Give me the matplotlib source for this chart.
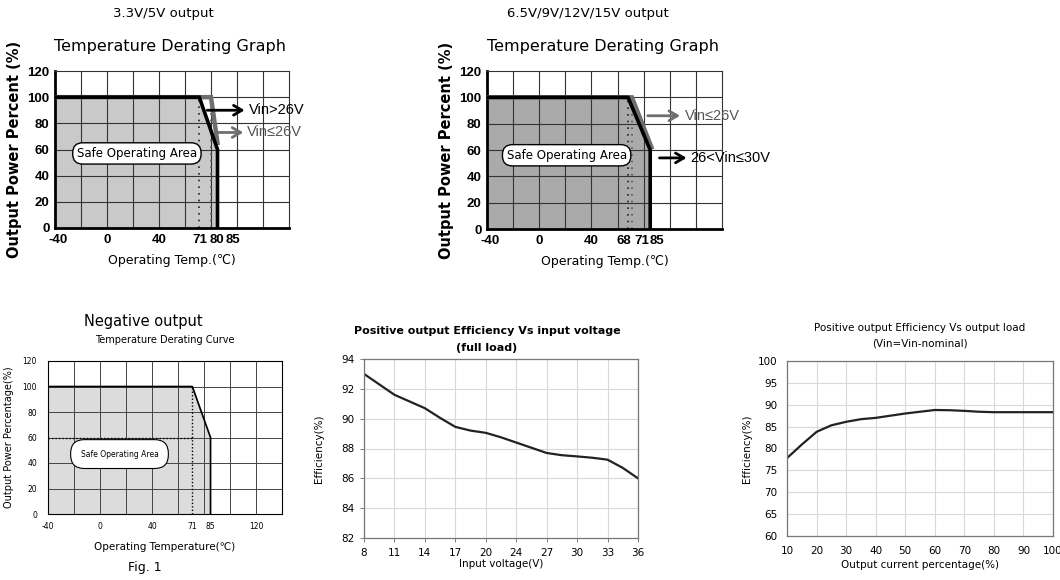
import matplotlib
matplotlib.use('Agg')
import matplotlib.pyplot as plt
import matplotlib.transforms as mtransforms
import numpy as np

plt.rcParams['font.family'] = ['DejaVu Sans']
plt.rcParams['axes.unicode_minus'] = False

#============================== data ==========================================
# 3.3V/5V output derating
tl_hi_x = [-40, 71, 85, 85]        # Vin>26V
tl_hi_y = [100, 100, 60, 0]
tl_lo_x = [-40, 80, 85]            # Vin<=26V
tl_lo_y = [100, 100, 65]
tl_ticks = [-40, 0, 40, 71, 80, 85]
tl_marks = [71, 80]

# 6.5V/9V/12V/15V output derating
tr_hi_x = [-40, 68, 85, 85]        # 26<Vin<=30V
tr_hi_y = [100, 100, 60, 0]
tr_lo_x = [-40, 71, 86]            # Vin<=26V
tr_lo_y = [100, 100, 62]
tr_ticks = [-40, 0, 40, 68, 71, 85]
tr_marks = [68, 71]

# negative output derating
neg_x = [-40, 71, 85, 85]
neg_y = [100, 100, 60, 0]
neg_ticks = [-40, 0, 40, 71, 85, 120]

# efficiency vs input voltage (read at gridlines and half-way between)
vin_labels = ['8', '11', '14', '17', '20', '24', '27', '30', '33', '36']
eff_vin = [93.0, 92.3, 91.6, 91.15, 90.7, 90.05, 89.45, 89.2, 89.05, 88.75,
           88.4, 88.05, 87.7, 87.55, 87.47, 87.38, 87.25, 86.7, 86.0]

# efficiency vs output load
load_pct = [10, 15, 20, 25, 30, 35, 40, 45, 50, 55, 60, 65, 70, 75, 80, 85,
            90, 95, 100]
eff_load = [77.8, 80.9, 83.8, 85.3, 86.1, 86.7, 87.0, 87.5, 88.0, 88.4, 88.8,
            88.75, 88.6, 88.4, 88.3, 88.3, 88.3, 88.3, 88.3]
#==============================================================================

W, H = 1060, 580
fig = plt.figure(figsize=(W / 100, H / 100), dpi=100)


def px_axes(l, t, r, b):
    return fig.add_axes([l / W, 1 - b / H, (r - l) / W, (b - t) / H])


def ftext(x, y, s, **kw):
    fig.text(x / W, 1 - y / H, s, ha='center', va='center', **kw)


def temp_grid(ax, color, lw):
    ax.set_xlim(-40, 140)
    ax.set_ylim(0, 120)
    for v in np.arange(-20, 140, 20):
        ax.axvline(v, color=color, lw=lw, zorder=1.5)
    for v in np.arange(20, 120, 20):
        ax.axhline(v, color=color, lw=lw, zorder=1.5)
    ax.set_yticks(np.arange(0, 121, 20))


def derating_top(ax, hx, hy, lx, ly, marks, ticks, offs, fill):
    temp_grid(ax, '#333333', 0.8)
    ax.set_xticks(ticks)
    ax.tick_params(length=0, which='both', labelsize=9.5, pad=4)
    for lab in ax.get_xticklabels() + ax.get_yticklabels():
        lab.set_family('Liberation Sans')
        lab.set_fontweight('bold')
    for lab, o in zip(ax.get_xticklabels(), offs):
        lab.set_transform(lab.get_transform() +
                          mtransforms.ScaledTranslation(o / 100, 0, fig.dpi_scale_trans))
    for s in ['left', 'bottom']:
        ax.spines[s].set_linewidth(2)
    for s in ['top', 'right']:
        ax.spines[s].set_linewidth(0.8)
        ax.spines[s].set_color('#333333')
    ax.fill_between(hx, hy, color=fill, zorder=1)
    ax.vlines(marks[0], 0, 100, colors='#222222', linestyles=(0, (1, 3)), lw=1.2, zorder=2)
    ax.vlines(marks[1], 0, 100, colors='#555555', linestyles=(0, (1, 3)), lw=1.2, zorder=2)
    ax.plot(lx, ly, color='#6e6e6e', lw=3.2, zorder=3, solid_joinstyle='miter')
    ax.plot(hx, hy, color='black', lw=2.6, zorder=4, solid_joinstyle='miter')
    ax.set_ylabel('Output Power Percent (%)', fontsize=10.5, fontweight='bold', labelpad=4)
    ax.set_xlabel('Operating Temp.(\u2103)', fontsize=9, labelpad=6)


arrow_k = '->,head_length=0.6,head_width=0.35'

# ---------------------------- top left ---------------------------------------
ax1 = px_axes(55, 71, 289, 228)
derating_top(ax1, tl_hi_x, tl_hi_y, tl_lo_x, tl_lo_y, tl_marks, tl_ticks,
             [3, 0, 0, 1, 6, 15.5], '#c9c9c9')
ax1.text(23, 57, 'Safe Operating Area', ha='center', va='center', fontsize=8.5, zorder=5,
         bbox=dict(boxstyle='round,pad=0.35,rounding_size=0.85', fc='white', ec='black', lw=1))
ax1.annotate('', xy=(108, 90), xytext=(75, 90),
             arrowprops=dict(arrowstyle=arrow_k, color='black', lw=2))
ax1.text(109, 90, 'Vin>26V', ha='left', va='center', fontsize=10.5, clip_on=False,
         family='Liberation Sans')
ax1.annotate('', xy=(107, 73), xytext=(82, 73),
             arrowprops=dict(arrowstyle=arrow_k, color='#6e6e6e', lw=2))
ax1.text(108, 73, 'Vin\u226426V', ha='left', va='center', fontsize=10.5, color='#555555',
         clip_on=False, family='Liberation Sans')
ftext(163, 14, '3.3V/5V output', fontsize=9.5)
ftext(170, 47, 'Temperature Derating Graph', fontsize=11.5)

# ---------------------------- top right --------------------------------------
ax2 = px_axes(487, 71, 722, 229)
derating_top(ax2, tr_hi_x, tr_hi_y, tr_lo_x, tr_lo_y, tr_marks, tr_ticks,
             [3, 0, 0, -4.5, 10, 6.5], '#aaaaaa')
ax2.text(21, 56, 'Safe Operating Area', ha='center', va='center', fontsize=8.5, zorder=5,
         bbox=dict(boxstyle='round,pad=0.35,rounding_size=0.85', fc='white', ec='black', lw=1))
ax2.annotate('', xy=(110, 86), xytext=(81, 86),
             arrowprops=dict(arrowstyle=arrow_k, color='#6e6e6e', lw=2))
ax2.text(111.5, 86, 'Vin\u226426V', ha='left', va='center', fontsize=10.5, color='#555555',
         clip_on=False, family='Liberation Sans')
ax2.annotate('', xy=(115, 54), xytext=(90, 54),
             arrowprops=dict(arrowstyle=arrow_k, color='black', lw=2))
ax2.text(116, 54, '26<Vin\u226430V', ha='left', va='center', fontsize=10.5, clip_on=False,
         family='Liberation Sans')
ftext(588, 14, '6.5V/9V/12V/15V output', fontsize=9.5)
ftext(603, 47, 'Temperature Derating Graph', fontsize=11.5)

# ---------------------------- bottom left ------------------------------------
ax3 = px_axes(48, 361, 282, 514)
temp_grid(ax3, '#444444', 0.7)
ax3.set_xticks(neg_ticks)
ax3.tick_params(length=0, which='both', labelsize=5.5, pad=6)
ax3.tick_params(axis='y', pad=8)
for s in ax3.spines.values():
    s.set_linewidth(0.8)
ax3.fill_between(neg_x, neg_y, color='#dcdcdc', zorder=1)
ax3.hlines(60, -40, neg_x[1], colors='black', linestyles=(0, (1, 1.5)), lw=1, zorder=2)
ax3.vlines(neg_x[1], 0, 100, colors='black', linestyles=(0, (1, 1.5)), lw=1, zorder=2)
ax3.plot(neg_x, neg_y, color='black', lw=1.2, zorder=3)
ax3.text(15, 47, 'Safe Operating Area', ha='center', va='center', fontsize=5.5, zorder=5,
         bbox=dict(boxstyle='round,pad=1.3,rounding_size=1.8', fc='white', ec='black', lw=0.8))
ax3.set_ylabel('Output Power Percentage(%)', fontsize=7, labelpad=6)
ax3.set_xlabel('Operating Temperature(\u2103)', fontsize=7.5, labelpad=8)
ftext(143, 321, 'Negative output', fontsize=10.5)
ftext(165, 340, 'Temperature Derating Curve', fontsize=7)
ftext(145, 567, 'Fig. 1', fontsize=9)

# ---------------------------- bottom middle ----------------------------------
ax4 = px_axes(364, 359, 638, 538)
pos = np.arange(len(eff_vin)) / 2
ax4.plot(pos, eff_vin, color='#222222', lw=1.6)
ax4.set_xlim(0, len(vin_labels) - 1)
ax4.set_ylim(82, 94)
ax4.set_xticks(range(len(vin_labels)))
ax4.set_xticklabels(vin_labels)
ax4.set_yticks(np.arange(82, 95, 2))
ax4.grid(True, color='#d8d8d8', lw=0.8)
ax4.tick_params(length=3, width=0.6, color='#666666', labelsize=7.5, pad=4)
for s in ax4.spines.values():
    s.set_color('#777777')
    s.set_linewidth(0.9)
ax4.set_ylabel('Efficiency(%)', fontsize=7.5, labelpad=12)
ax4.set_xlabel('Input voltage(V)', fontsize=7.5, labelpad=1)
ftext(487, 331, 'Positive output Efficiency Vs input voltage', fontsize=8, fontweight='semibold')
ftext(487, 348, '(full load)', fontsize=8, fontweight='semibold')

# ---------------------------- bottom right -----------------------------------
ax5 = px_axes(787, 361, 1053, 536)
ax5.plot(load_pct, eff_load, color='#222222', lw=1.6)
ax5.set_xlim(10, 100)
ax5.set_ylim(60, 100)
ax5.set_xticks(np.arange(10, 101, 10))
ax5.set_yticks(np.arange(60, 101, 5))
ax5.grid(True, color='#d8d8d8', lw=0.8)
ax5.tick_params(length=0, labelsize=7.5, pad=7)
for s in ax5.spines.values():
    s.set_color('#777777')
    s.set_linewidth(0.9)
ax5.set_ylabel('Efficiency(%)', fontsize=7.5, labelpad=4)
ax5.set_xlabel('Output current percentage(%)', fontsize=7.5, labelpad=3)
ftext(920, 328, 'Positive output Efficiency Vs output load', fontsize=7.5)
ftext(920, 343, '(Vin=Vin-nominal)', fontsize=7.5)

fig.savefig('out.png', dpi=100)
